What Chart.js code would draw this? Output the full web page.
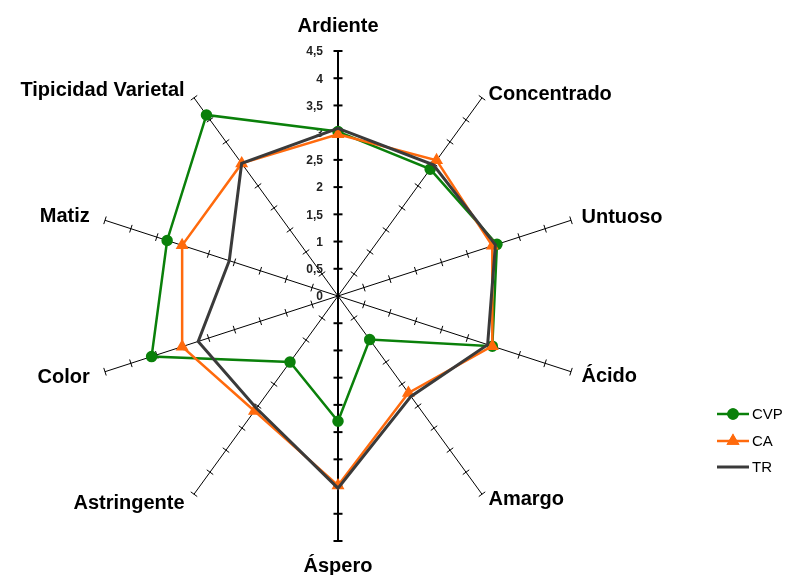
<!DOCTYPE html>
<html>
<head>
<meta charset="utf-8">
<script src="https://cdn.jsdelivr.net/npm/chart.js@4/dist/chart.umd.min.js"></script>
<style>
  html, body { margin: 0; padding: 0; background: #fff; }
  #wrap { width: 789px; height: 575px; }
</style>
</head>
<body>
<div id="wrap"><canvas id="radar" width="789" height="575"></canvas></div>
<script>
// ─── DATA ─────────────────────────────────────────────────
const categories = ['Ardiente', 'Concentrado', 'Untuoso', 'Ácido', 'Amargo',
    'Áspero', 'Astringente', 'Color', 'Matiz', 'Tipicidad Varietal'];
const cvpValues = [3.02, 2.88, 3.07, 2.98, 0.99, 2.30, 1.50, 3.60, 3.30, 4.11];
const caValues  = [2.97, 3.08, 2.98, 2.98, 2.20, 3.48, 2.61, 3.01, 3.01, 3.01];
const trValues  = [3.08, 2.98, 3.04, 2.89, 2.28, 3.53, 2.55, 2.70, 2.10, 3.01];
const tickValues = [0, 0.5, 1, 1.5, 2, 2.5, 3, 3.5, 4, 4.5];
const tickLabels = ['0', '0,5', '1', '1,5', '2', '2,5', '3', '3,5', '4', '4,5'];

const FONT = '"Liberation Sans", Arial, sans-serif';

// tick marks, value labels and category labels drawn on the radial scale
const axisDecor = {
    id: 'axisDecor',
    beforeDatasetsDraw(chart) {
        const r = chart.scales.r;
        const ctx = chart.ctx;
        const n = categories.length;
        ctx.save();
        ctx.strokeStyle = '#000';

        for (let i = 0; i < n; i++) {
            const a = r.getIndexAngle(i) - Math.PI / 2;
            const px = -Math.sin(a), py = Math.cos(a);
            const vertical = (i === 0 || i === 5);
            const len = vertical ? 4.5 : 4;
            ctx.lineWidth = vertical ? 2 : 1;
            tickValues.forEach(v => {
                if (v === 0) return;
                const p = r.getPointPositionForValue(i, v);
                ctx.beginPath();
                ctx.moveTo(p.x - px * len, p.y - py * len);
                ctx.lineTo(p.x + px * len, p.y + py * len);
                ctx.stroke();
            });
        }

        // value labels on the vertical axis
        ctx.fillStyle = '#222';
        ctx.font = 'bold 12px ' + FONT;
        ctx.textAlign = 'right';
        ctx.textBaseline = 'middle';
        tickValues.forEach((v, k) => {
            const p = r.getPointPositionForValue(0, v);
            ctx.fillText(tickLabels[k], r.xCenter - 15, p.y + 1);
        });

        // category labels
        ctx.fillStyle = '#000';
        ctx.font = 'bold 20px ' + FONT;
        for (let i = 0; i < n; i++) {
            const a = r.getIndexAngle(i) - Math.PI / 2;
            const s = Math.cos(a);
            let d, align;
            if (Math.abs(s) < 0.1) { align = 'center'; d = i === 0 ? 26 : 24; }
            else if (s > 0) { align = 'left'; d = 11; }
            else { align = 'right'; d = 16; }
            const p = r.getPointPosition(i, r.drawingArea + d);
            let y = p.y;
            const dy = Math.sin(a);
            if (Math.abs(s) > 0.1 && Math.abs(dy) > 0.7) y -= Math.sign(dy) * 5;
            ctx.textAlign = align;
            ctx.textBaseline = 'middle';
            ctx.fillText(categories[i], p.x, y + 1);
        }
        ctx.restore();
    },
    afterDraw(chart) {
        // legend: line + marker, bottom right
        const ctx = chart.ctx;
        ctx.save();
        const rows = [414, 441, 467];
        chart.data.datasets.forEach((ds, k) => {
            const y = rows[k];
            ctx.strokeStyle = ds.borderColor;
            ctx.lineWidth = ds.borderWidth;
            ctx.beginPath();
            ctx.moveTo(717, y);
            ctx.lineTo(749, y);
            ctx.stroke();
            if (ds.pointRadius > 0) {
                Chart.helpers.drawPoint(ctx, {
                    pointStyle: ds.pointStyle, radius: ds.pointRadius,
                    borderWidth: 1, rotation: 0
                }, 733, y);
                ctx.fillStyle = ds.pointBackgroundColor;
                ctx.strokeStyle = ds.pointBorderColor;
                ctx.beginPath();
                Chart.helpers.drawPoint(ctx, {
                    pointStyle: ds.pointStyle, radius: ds.pointRadius,
                    borderWidth: 1, rotation: 0
                }, 733, y);
            }
            ctx.fillStyle = '#000';
            ctx.font = '15px ' + FONT;
            ctx.textAlign = 'left';
            ctx.textBaseline = 'middle';
            ctx.fillText(ds.label, 752, y + 1);
        });
        ctx.restore();
    }
};

new Chart(document.getElementById('radar'), {
    type: 'radar',
    data: {
        labels: categories,
        datasets: [
            {
                label: 'CVP', data: cvpValues, order: 3,
                borderColor: '#0A800A', borderWidth: 2.5, fill: false,
                pointStyle: 'circle', pointRadius: 4.5,
                pointBackgroundColor: '#0A800A', pointBorderColor: '#0A800A',
            },
            {
                label: 'CA', data: caValues, order: 2,
                borderColor: '#FF6A0D', borderWidth: 2.5, fill: false,
                pointStyle: 'triangle', pointRadius: 5,
                pointBackgroundColor: '#FF6A0D', pointBorderColor: '#FF6A0D',
            },
            {
                label: 'TR', data: trValues, order: 1,
                borderColor: '#3A3A3A', borderWidth: 3, fill: false,
                pointRadius: 0, pointBackgroundColor: '#3A3A3A', pointBorderColor: '#3A3A3A',
            },
        ]
    },
    options: {
        responsive: false,
        animation: false,
        layout: { padding: { left: 93, right: 206, top: 51, bottom: 34 } },
        elements: { line: { tension: 0 } },
        plugins: { legend: { display: false }, tooltip: { enabled: false } },
        scales: {
            r: {
                min: 0, max: 4.5,
                ticks: { display: false, stepSize: 0.5 },
                grid: { display: false },
                pointLabels: { display: false },
                angleLines: {
                    display: true, color: '#000',
                    lineWidth: c => (c.index === 0 || c.index === 5) ? 2 : 1,
                },
            }
        }
    },
    plugins: [axisDecor],
});
</script>
</body>
</html>
